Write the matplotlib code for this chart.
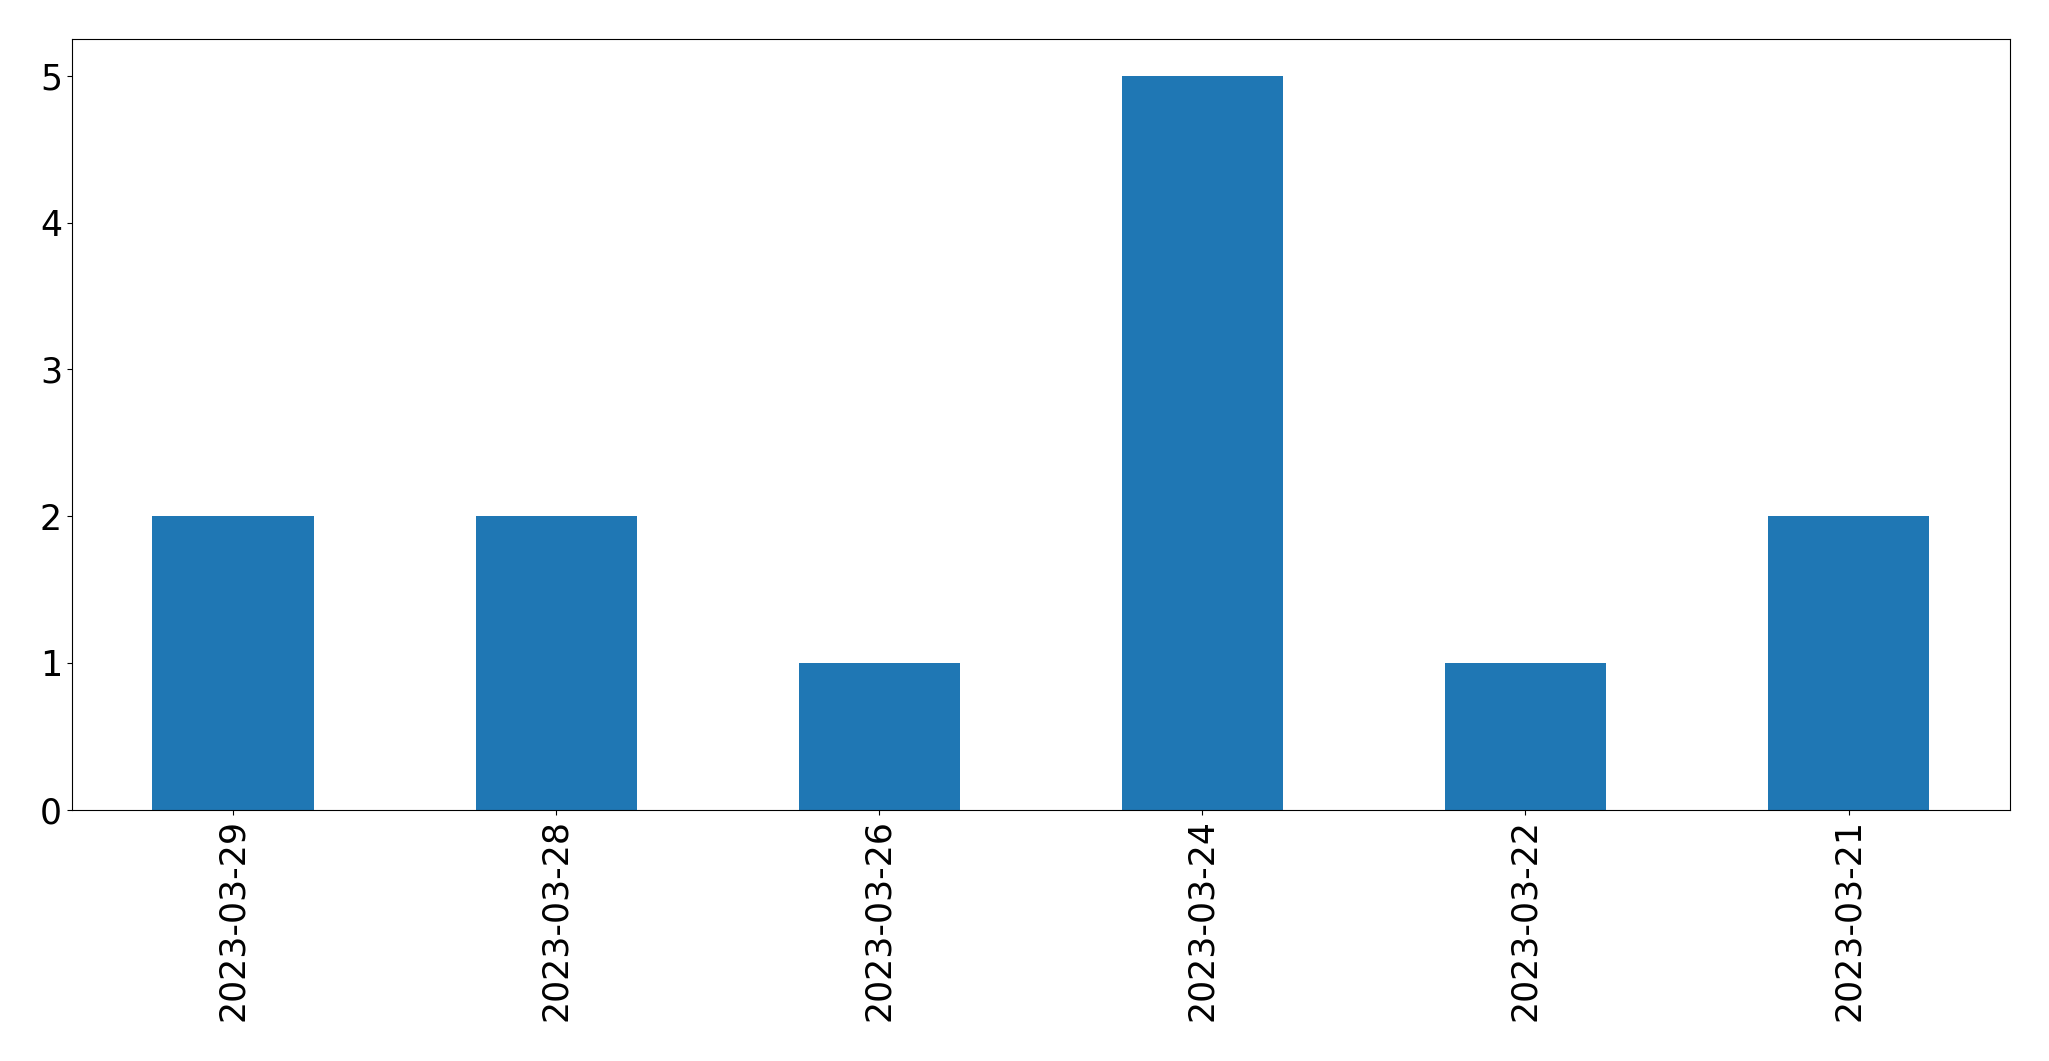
import matplotlib
matplotlib.use('Agg')
import matplotlib.pyplot as plt
import pandas as pd

# counts per date, in the order shown
dates = ['2023-03-29', '2023-03-28', '2023-03-26', '2023-03-24', '2023-03-22', '2023-03-21']
counts = [2, 2, 1, 5, 1, 2]

s = pd.Series(counts, index=dates)

fig, ax = plt.subplots(figsize=(20.49, 10.61), dpi=100)
s.plot(kind='bar', ax=ax, color='#1f77b4', rot=90, fontsize=25)
ax.set_yticks([0, 1, 2, 3, 4, 5])

plt.subplots_adjust(left=0.035, right=0.981, top=0.963, bottom=0.237)
plt.savefig('out.png', dpi=100)
